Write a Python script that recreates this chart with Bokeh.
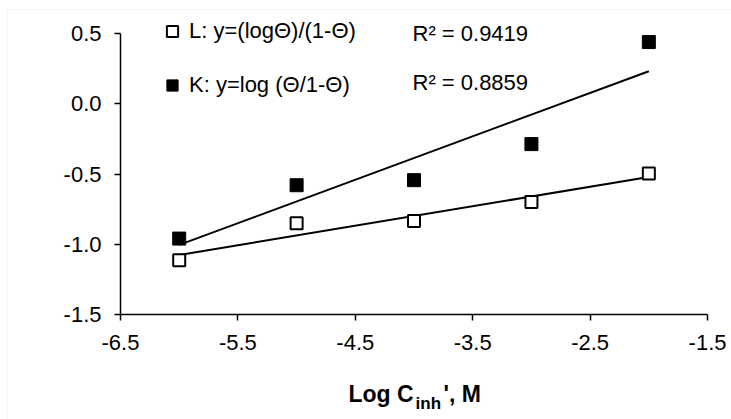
import numpy as np
from bokeh.plotting import figure
from bokeh.models import (FixedTicker, PrintfTickFormatter, Label, Legend, LegendItem,
                          ColumnDataSource, Range1d, BoxAnnotation)
from bokeh.embed import file_html
from bokeh.resources import INLINE

# ---- data ----
log_c = [-6, -5, -4, -3, -2]
series_L = [-1.114, -0.850, -0.834, -0.698, -0.495]
series_K = [-0.959, -0.579, -0.543, -0.286, 0.441]
legend_labels = ["L: y=(log\u0398)/(1-\u0398)", "K: y=log (\u0398/1-\u0398)"]
r2_labels = ["R\u00b2 = 0.9419", "R\u00b2 = 0.8859"]
x_ticks = [-6.5, -5.5, -4.5, -3.5, -2.5, -1.5]
y_ticks = [-1.5, -1.0, -0.5, 0.0, 0.5]

FONT = "Liberation Sans"

# frame covers the whole canvas; axes are drawn at fixed locations with bounds
p = figure(width=731, height=419, output_backend="svg", toolbar_location=None,
           x_range=Range1d(-7.522, -1.296), y_range=Range1d(-2.248, 0.737),
           min_border=0)
p.min_border_left = 0
p.min_border_right = 0
p.min_border_top = 0
p.min_border_bottom = 0
p.outline_line_color = None
p.grid.visible = False
p.background_fill_color = "white"
p.border_fill_color = "white"

# light outer chart border
p.add_layout(BoxAnnotation(left=-7.462, right=-1.0, top=0.673, bottom=-3.0,
                           fill_alpha=0, line_color="#d9d9d9", line_width=1))

for ax in (p.xaxis[0], p.yaxis[0]):
    ax.axis_line_width = 1.5
    ax.axis_line_color = "black"
    ax.major_tick_line_color = "black"
    ax.major_tick_line_width = 1.5
    ax.major_tick_out = 6
    ax.major_tick_in = 0
    ax.minor_tick_line_color = None
    ax.major_label_text_font = FONT
    ax.major_label_text_font_size = "22px"
    ax.major_label_text_color = "black"
    ax.formatter = PrintfTickFormatter(format="%.1f")
p.xaxis[0].ticker = FixedTicker(ticks=x_ticks)
p.yaxis[0].ticker = FixedTicker(ticks=y_ticks)
p.xaxis[0].bounds = (x_ticks[0], x_ticks[-1])
p.yaxis[0].bounds = (y_ticks[0], y_ticks[-1])
p.xaxis[0].fixed_location = y_ticks[0]
p.yaxis[0].fixed_location = x_ticks[0]
p.xaxis[0].major_label_standoff = 14
p.yaxis[0].major_label_standoff = 13

src = ColumnDataSource(dict(x=log_c, L=series_L, K=series_K))

# trend lines (least squares)
xs = np.array([min(log_c), max(log_c)], dtype=float)
for ys in (series_L, series_K):
    m, b = np.polyfit(log_c, ys, 1)
    p.line(xs, m * xs + b, line_color="black", line_width=2)

rL = p.scatter("x", "L", source=src, marker="square", size=12, fill_color="white",
               line_color="black", line_width=2)
rK = p.scatter("x", "K", source=src, marker="square", size=13, fill_color="black",
               line_color="black", line_width=1)

legend = Legend(items=[LegendItem(label=legend_labels[0], renderers=[rL]),
                       LegendItem(label=legend_labels[1], renderers=[rK])],
                location=(158, 320), padding=0, margin=0, spacing=26,
                glyph_width=28, glyph_height=28, label_standoff=3,
                label_text_font=FONT, label_text_font_size="22px",
                label_text_color="black",
                border_line_color=None, background_fill_alpha=0)
p.add_layout(legend, "center")

for lab, yy in zip(r2_labels, [0.505, 0.155]):
    p.add_layout(Label(x=-4.013, y=yy, text=lab, text_font=FONT, text_font_size="22px",
                       text_color="black", text_baseline="middle"))

# x axis title with subscript
p.add_layout(Label(x=-4.558, y=-2.068, text="Log C", text_font=FONT, text_font_size="23px",
                   text_font_style="bold", text_color="black", text_baseline="middle"))
p.add_layout(Label(x=-3.987, y=-2.132, text="inh", text_font=FONT, text_font_size="17px",
                   text_font_style="bold", text_color="black", text_baseline="middle"))
p.add_layout(Label(x=-3.749, y=-2.068, text="', M", text_font=FONT, text_font_size="23px",
                   text_font_style="bold", text_color="black", text_baseline="middle"))

open("out.html", "w").write(file_html(p, INLINE))
